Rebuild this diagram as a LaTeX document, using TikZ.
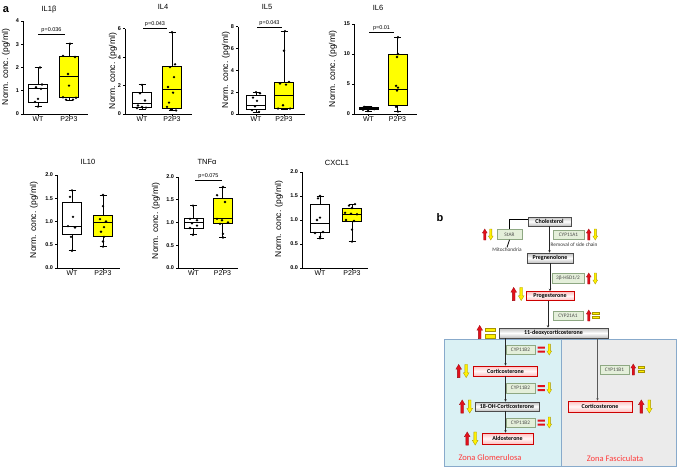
\documentclass[tikz,border=0pt]{standalone}
\usepackage{fontspec}
\setmainfont{Liberation Sans}
\newfontfamily\calib{Carlito}
\usetikzlibrary{arrows.meta}
\definecolor{boxyel}{HTML}{FFFF00}
\definecolor{arred}{HTML}{E3101B}
\definecolor{aryel}{HTML}{FFF200}
\definecolor{yeledge}{HTML}{A89400}
\definecolor{enzfill}{HTML}{E4EFDA}
\definecolor{enzedge}{HTML}{8EA883}
\definecolor{glomfill}{HTML}{DAF1F4}
\definecolor{fascfill}{HTML}{EBEBEB}
\definecolor{zoneedge}{HTML}{88AACB}
\definecolor{zonetxt}{HTML}{FF3A3A}
\tikzset{%
  axisln/.style   = {line width=0.9pt},%
  whisk/.style    = {line width=0.9pt},%
  boxst/.style    = {line width=0.9pt, draw=black},%
  pbar/.style     = {line width=0.5pt},%
  ticklbl/.style  = {anchor=east, inner sep=1pt, font=\bfseries\fontsize{5.5}{6}\selectfont},%
  xlbl/.style     = {below=0.5pt, inner sep=0pt, font=\fontsize{7}{8}\selectfont},%
  ttl/.style      = {font=\fontsize{7.5}{8}\selectfont},%
  ylbl/.style     = {rotate=90, inner sep=0pt, font=\fontsize{8.5}{9}\selectfont},%
  pval/.style     = {above, inner sep=1pt, font=\fontsize{5.5}{6}\selectfont},%
  panel/.style    = {font=\bfseries\fontsize{11}{12}\selectfont},%
  cmpd/.style     = {draw=black!70, line width=0.6pt, inner sep=0pt,%
                     top color=gray!50, bottom color=gray!50, middle color=white,%
                     font=\calib\bfseries\fontsize{6}{7}\selectfont},%
  pinkcmpd/.style = {cmpd, draw=red!80!black,%
                     top color=red!25, bottom color=red!25, middle color=red!3},%
  enz/.style      = {draw=enzedge, fill=enzfill, line width=0.5pt, inner sep=0pt,%
                     minimum width=29pt, minimum height=9pt,%
                     text=black!70, font=\calib\fontsize{5.3}{6}\selectfont},%
  note/.style     = {inner sep=0pt, text=black!80, font=\calib\fontsize{5.3}{6}\selectfont},%
  zone/.style     = {draw=zoneedge, line width=0.6pt},%
  zonelbl/.style  = {text=zonetxt, font=\calib\fontsize{8.5}{9}\selectfont},%
  flow/.style     = {-{Stealth[length=2.5pt,width=2.5pt]}, line width=0.6pt, black!85},%
  mitoln/.style   = {line width=0.8pt},%
  upar/.pic = {\filldraw[fill=arred, draw=arred!70!black, line width=0.3pt]
     (-1.1,5.5) -- (-1.1,-1.5) -- (-2.4,-1.5) -- (0,-5.5) -- (2.4,-1.5) -- (1.1,-1.5) -- (1.1,5.5) -- cycle;},%
  dnar/.pic = {\filldraw[fill=aryel, draw=yeledge, line width=0.3pt]
     (-1.1,-5.5) -- (-1.1,1.5) -- (-2.4,1.5) -- (0,5.5) -- (2.4,1.5) -- (1.1,1.5) -- (1.1,-5.5) -- cycle;},%
  eqyel/.pic = {\filldraw[fill=aryel, draw=yeledge, line width=0.3pt]
     (-3.2,-3) rectangle (3.2,-1) (-3.2,1) rectangle (3.2,3);},%
  eqred/.pic = {\fill[arred]
     (-3.6,-3) rectangle (3.6,-1) (-3.6,1) rectangle (3.6,3);}%
}
% box with whiskers: x, low, q1, median, q3, high, fill
\newcommand{\bxwhisk}[7]{%
  \draw[whisk] (#1,#2) -- (#1,#6);
  \draw[whisk] (#1-3.5,#2) -- (#1+3.5,#2) (#1-3.5,#6) -- (#1+3.5,#6);
  \filldraw[boxst, fill=#7] (#1-9.5,#3) rectangle (#1+9.5,#5);
  \draw[boxst] (#1-9.5,#4) -- (#1+9.5,#4);}

\begin{document}
\begin{tikzpicture}[x=1pt, y=-1pt]
	\useasboundingbox (0,0) rectangle (677,471);
	\node[panel] (lbla) at (6,10) {a};
	\node[panel] (lblb) at (440,218) {b};
	% IL1b
	\node[ttl] (t1) at (49,10) {IL1β};
	\node[ylbl] (y1) at (6,67) {Norm. conc. (pg/ml)};
	\begin{scope}[shift={(0,114)}, y=23.25pt]
		\draw[axisln] (23,4) -- (23,0) -- (88,0);
		\foreach \t in {0,...,4} \draw[axisln] (23,\t) -- ++(-2.5pt,0pt) node[ticklbl] {\t};
		\foreach \xc/\xl in {38/WT,69/P2P3} \draw[axisln] (\xc,0) -- ++(0pt,-2pt) node[xlbl] {\xl};
		\bxwhisk{38}{0.32}{0.5}{1.1}{1.25}{2.0}{white}
		\bxwhisk{69}{0.6}{0.72}{1.62}{2.47}{3.02}{boxyel}
		\foreach \ptx/\pty in {40/2.0,42/1.27,36/1.15,41/1.08,38/0.65,35/0.52,38/0.32,
			70/3.02,63/2.5,75/2.45,68/1.72,69/1.22,63/0.72,73/0.62,66/0.62,76/0.7}
			\fill (\ptx,\pty) circle (1.3pt);
		\draw[pbar] (38,3.44) -- node[pval] {p=0.036} (65,3.44);
	\end{scope}
	% IL4
	\node[ttl] (t2) at (163,7) {IL4};
	\node[ylbl] (y2) at (113,71) {Norm. conc. (pg/ml)};
	\begin{scope}[shift={(0,114)}, y=14.2pt]
		\draw[axisln] (125,6) -- (125,0) -- (192,0);
		\foreach \t in {0,2,4,6} \draw[axisln] (125,\t) -- ++(-2.5pt,0pt) node[ticklbl] {\t};
		\foreach \xc/\xl in {142/WT,172/P2P3} \draw[axisln] (\xc,0) -- ++(0pt,-2pt) node[xlbl] {\xl};
		\bxwhisk{142}{0.35}{0.45}{0.77}{1.52}{2.05}{white}
		\bxwhisk{172}{0.23}{0.42}{1.76}{3.35}{5.76}{boxyel}
		\foreach \ptx/\pty in {142/2.05,140/1.45,145/0.95,138/0.6,142/0.5,146/0.45,137/0.42,
			172/5.76,175/3.5,170/3.3,174/2.6,168/1.9,173/1.5,169/0.8,167/0.5,171/0.3,176/0.25}
			\fill (\ptx,\pty) circle (1.3pt);
		\draw[pbar] (143,6.06) -- node[pval] {p=0.043} (167,6.06);
	\end{scope}
	% IL5
	\node[ttl] (t3) at (267,7) {IL5};
	\node[ylbl] (y3) at (226,70) {Norm. conc. (pg/ml)};
	\begin{scope}[shift={(0,114)}, y=10.9pt]
		\draw[axisln] (238,8) -- (238,0) -- (305,0);
		\foreach \t in {0,2,4,6,8} \draw[axisln] (238,\t) -- ++(-2.5pt,0pt) node[ticklbl] {\t};
		\foreach \xc/\xl in {256/WT,284/P2P3} \draw[axisln] (\xc,0) -- ++(0pt,-2pt) node[xlbl] {\xl};
		\bxwhisk{256}{0.15}{0.4}{0.77}{1.69}{2.0}{white}
		\bxwhisk{284}{0.45}{0.49}{1.72}{2.94}{7.6}{boxyel}
		\foreach \ptx/\pty in {256/2.0,260/1.9,253/1.5,257/1.2,255/0.7,252/0.35,259/0.2,
			285/7.6,284/5.8,289/2.95,280/2.8,286/2.7,283/0.8,278/0.5,290/0.5}
			\fill (\ptx,\pty) circle (1.3pt);
		\draw[pbar] (257,7.98) -- node[pval] {p=0.043} (282,7.98);
	\end{scope}
	% IL6
	\node[ttl] (t4) at (378,8) {IL6};
	\node[ylbl] (y4) at (333,69) {Norm. conc. (pg/ml)};
	\begin{scope}[shift={(0,114)}, y=6pt]
		\draw[axisln] (354,15) -- (354,0) -- (417,0);
		\foreach \t in {0,5,10,15} \draw[axisln] (354,\t) -- ++(-2.5pt,0pt) node[ticklbl] {\t};
		\foreach \xc/\xl in {368.5/WT,397.5/P2P3} \draw[axisln] (\xc,0) -- ++(0pt,-2pt) node[xlbl] {\xl};
		\bxwhisk{368.5}{0.5}{0.68}{0.85}{1.02}{1.25}{white}
		\bxwhisk{397.5}{0.4}{1.38}{4.15}{9.96}{12.8}{boxyel}
		\foreach \ptx/\pty in {364/1.2,368/1.1,372/1.0,366/0.9,370/0.85,374/0.8,363/0.7,368/0.5,
			398/12.8,398/10.0,397/9.5,396/4.7,398/4.4,397/3.9,396/1.2,398/0.4}
			\fill (\ptx,\pty) circle (1.3pt);
		\draw[pbar] (369,13.67) -- node[pval] {p=0.01} (394,13.67);
	\end{scope}
	% IL10
	\node[ttl] (t5) at (88,162) {IL10};
	\node[ylbl] (y5) at (34,220) {Norm. conc. (pg/ml)};
	\begin{scope}[shift={(0,268)}, y=46.5pt]
		\draw[axisln] (57,2) -- (57,0) -- (120,0);
		\foreach \t in {0.0,0.5,1.0,1.5,2.0} \draw[axisln] (57,\t) -- ++(-2.5pt,0pt) node[ticklbl] {\t};
		\foreach \xc/\xl in {72/WT,103/P2P3} \draw[axisln] (\xc,0) -- ++(0pt,-2pt) node[xlbl] {\xl};
		\bxwhisk{72}{0.37}{0.73}{0.9}{1.42}{1.67}{white}
		\bxwhisk{103}{0.46}{0.67}{0.97}{1.12}{1.57}{boxyel}
		\foreach \ptx/\pty in {72/1.67,70/1.53,73/1.1,68/0.9,75/0.87,71/0.67,72/0.37,
			103/1.57,103/1.33,100/1.05,106/1.0,104/0.88,101/0.78,104/0.67,103/0.57,103/0.46}
			\fill (\ptx,\pty) circle (1.3pt);
	\end{scope}
	% TNFa
	\node[ttl] (t6) at (207,162) {TNFα};
	\node[ylbl] (y6) at (156,221) {Norm. conc. (pg/ml)};
	\begin{scope}[shift={(0,268)}, y=45.5pt]
		\draw[axisln] (178,2) -- (178,0) -- (238,0);
		\foreach \t in {0.0,0.5,1.0,1.5,2.0} \draw[axisln] (178,\t) -- ++(-2.5pt,0pt) node[ticklbl] {\t};
		\foreach \xc/\xl in {193.5/WT,222.5/P2P3} \draw[axisln] (\xc,0) -- ++(0pt,-2pt) node[xlbl] {\xl};
		\bxwhisk{193.5}{0.73}{0.87}{1.0}{1.08}{1.37}{white}
		\bxwhisk{222.5}{0.67}{0.97}{1.08}{1.53}{1.78}{boxyel}
		\foreach \ptx/\pty in {193/1.37,190/1.08,197/1.05,192/0.98,197/0.93,190/0.88,193/0.73,
			223/1.78,217/1.6,225/1.45,217/1.08,222/1.05,228/1.0,220/0.97,223/0.75,223/0.67}
			\fill (\ptx,\pty) circle (1.3pt);
		\draw[pbar] (195,1.93) -- node[pval] {p=0.075} (222,1.93);
	\end{scope}
	% CXCL1
	\node[ttl] (t7) at (337,163) {CXCL1};
	\node[ylbl] (y7) at (279,219) {Norm. conc. (pg/ml)};
	\begin{scope}[shift={(0,268)}, y=48pt]
		\draw[axisln] (302,2) -- (302,0) -- (368,0);
		\foreach \t in {0.0,0.5,1.0,1.5,2.0} \draw[axisln] (302,\t) -- ++(-2.5pt,0pt) node[ticklbl] {\t};
		\foreach \xc/\xl in {320/WT,352/P2P3} \draw[axisln] (\xc,0) -- ++(0pt,-2pt) node[xlbl] {\xl};
		\bxwhisk{320}{0.62}{0.75}{0.93}{1.33}{1.5}{white}
		\bxwhisk{352}{0.55}{0.98}{1.12}{1.25}{1.33}{boxyel}
		\foreach \ptx/\pty in {320/1.5,318/1.45,320/1.05,317/1.0,315/0.73,323/0.75,320/0.65,320/0.62,
			355/1.33,349/1.3,352/1.25,345/1.15,351/1.13,357/1.12,346/1.0,354/0.98,352/0.8,352/0.55}
			\fill (\ptx,\pty) circle (1.3pt);
	\end{scope}
	% pathway
	\filldraw[zone, fill=glomfill] (444,339) rectangle (561,466);
	\filldraw[zone, fill=fascfill] (561,339) rectangle (676.5,466);
	\node[cmpd, minimum width=43pt, minimum height=9pt] (chol) at (549.5,221.5) {Cholesterol};
	\node[enz, minimum width=25pt, minimum height=10pt] (star) at (509.5,234.5) {StAR};
	\node[enz, minimum width=31pt] (cyp11a1) at (568.5,234.5) {CYP11A1};
	\node[note] (side) at (574,244.5) {Removal of side chain};
	\node[note] (mito) at (507,249.5) {Mitochondria};
	\node[cmpd, minimum width=46pt, minimum height=10pt] (preg) at (550,258) {Pregnenolone};
	\node[enz, minimum width=32pt, minimum height=10pt] (hsd) at (568,278.5) {3β-HSD1/2};
	\node[pinkcmpd, minimum width=48pt, minimum height=9pt] (prog) at (550,296) {Progesterone};
	\node[enz, minimum width=30pt] (cyp21) at (568,315.5) {CYP21A1};
	\node[cmpd, minimum width=109pt, minimum height=10pt] (doc) at (553.5,333) {11-deoxycorticosterone};
	\node[enz] (b2a) at (520.5,349.5) {CYP11B2};
	\node[pinkcmpd, minimum width=64pt, minimum height=10pt] (corta) at (505.5,371) {Corticosterone};
	\node[enz, minimum height=10pt] (b2b) at (520.5,388) {CYP11B2};
	\node[cmpd, minimum width=64pt, minimum height=9pt] (ohc) at (507,406.5) {18-OH-Corticosterone};
	\node[enz] (b2c) at (520.5,422.5) {CYP11B2};
	\node[pinkcmpd, minimum width=51pt, minimum height=11pt] (aldo) at (507.5,438.5) {Aldosterone};
	\node[enz] (b1) at (614.5,369.5) {CYP11B1};
	\node[pinkcmpd, minimum width=64pt, minimum height=11pt] (cortf) at (600,406.5) {Corticosterone};
	\node[zonelbl] (glomlbl) at (490,458) {Zona Glomerulosa};
	\node[zonelbl] (fasclbl) at (615,459) {Zona Fasciculata};
	\draw[mitoln] ([yshift=2pt]chol.west) -| (star.north);
	\draw[mitoln] (star.south) -- (mito.north);
	\draw[flow] (chol.south) -- (chol.south |- preg.north);
	\draw[flow] (preg.south) -- (preg.south |- prog.north);
	\draw[flow] ([xshift=-2pt]prog.south) -- ([xshift=-2pt]prog.south |- doc.north);
	\draw[flow] (corta.north |- doc.south) -- (corta.north);
	\draw[flow] (corta.south) -- (corta.south |- ohc.north);
	\draw[flow] (corta.south |- ohc.south) -- (corta.south |- aldo.north);
	\draw[flow, line width=1pt, gray!70!black] ([xshift=-2.5pt]cortf.north |- doc.south) -- ([xshift=-2.5pt]cortf.north);
	% up / down / equal marks
	\pic at ([xshift=-12pt]star.west) {upar};
	\pic at ([xshift=-6pt]star.west) {dnar};
	\pic at ([xshift=4.5pt]cyp11a1.east) {upar};
	\pic at ([xshift=11pt]cyp11a1.east) {dnar};
	\pic at ([xshift=4.5pt]hsd.east) {upar};
	\pic at ([xshift=11pt]hsd.east) {dnar};
	\pic[scale=1.2] at ([xshift=-12pt,yshift=2pt]prog.west) {upar};
	\pic[scale=1.2] at ([xshift=-4.5pt,yshift=2pt]prog.west) {dnar};
	\pic at ([xshift=5.5pt]cyp21.east) {upar};
	\pic at ([xshift=12.5pt]cyp21.east) {eqyel};
	\pic[scale=1.2] at ([xshift=-19pt,yshift=1pt]doc.west) {upar};
	\pic[scale=1.6] at ([xshift=-8.5pt]doc.west) {eqyel};
	\foreach \enzn in {b2a,b2b,b2c} {
		\pic at ([xshift=6pt]\enzn.east) {eqred};
		\pic at ([xshift=14pt]\enzn.east) {dnar};
	}
	\pic[scale=1.2] at ([xshift=-14.5pt]corta.west) {upar};
	\pic[scale=1.2] at ([xshift=-7pt]corta.west) {dnar};
	\pic[scale=1.2] at ([xshift=-12.5pt]ohc.west) {upar};
	\pic[scale=1.2] at ([xshift=-5pt]ohc.west) {dnar};
	\pic[scale=1.2] at ([xshift=-14.5pt]aldo.west) {upar};
	\pic[scale=1.2] at ([xshift=-6.5pt]aldo.west) {dnar};
	\pic at ([xshift=4pt]b1.east) {upar};
	\pic at ([xshift=12pt]b1.east) {eqyel};
	\pic[scale=1.2] at ([xshift=9pt]cortf.east) {upar};
	\pic[scale=1.2] at ([xshift=17pt]cortf.east) {dnar};
\end{tikzpicture}
\end{document}
